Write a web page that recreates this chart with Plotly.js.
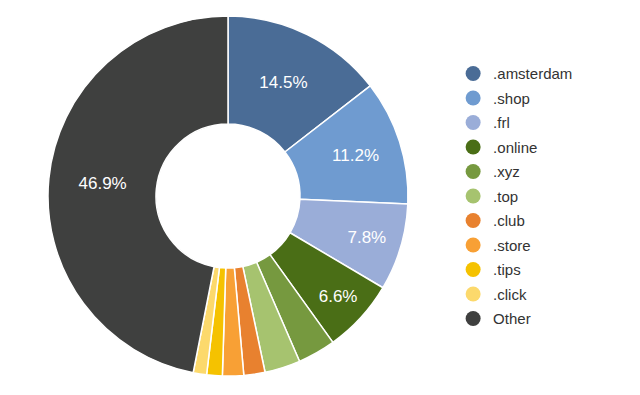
<!DOCTYPE html>
<html>
<head>
<meta charset="utf-8">
<script src="https://cdn.plot.ly/plotly-3.0.1.min.js"></script>
<style>html,body{margin:0;padding:0;background:#fff;}#chart{width:640px;height:395px;}</style>
</head>
<body>
<div id="chart"></div>
<script>
const labels = ['.amsterdam', '.shop', '.frl', '.online', '.xyz', '.top', '.club', '.store', '.tips', '.click', 'Other'];
const values = [14.5, 11.2, 7.8, 6.6, 3.4, 3.2, 1.9, 1.9, 1.4, 1.2, 46.9];
const colors = ['#4a6c96', '#6f9bd0', '#9aadd8', '#4a6e16', '#76993f', '#a6c36f', '#e8812f', '#f8a035', '#f5c200', '#fcd96c', '#3f403f'];
const showLabel = [true, true, true, true, false, false, false, false, false, false, true];

const pie = {
  type: 'pie',
  labels: labels,
  values: values,
  sort: false,
  direction: 'clockwise',
  rotation: 0,
  hole: 0.4,
  marker: {colors: colors, line: {color: '#ffffff', width: 1.5}},
  textinfo: 'percent',
  texttemplate: '%{percent:.1%}',
  textposition: showLabel.map(s => s ? 'inside' : 'none'),
  insidetextorientation: 'horizontal',
  textfont: {family: 'Liberation Sans, Arial, sans-serif', size: 17, color: '#ffffff'},
  showlegend: false,
  domain: {x: [0.075, 0.6375], y: [0.045, 0.962]},
  hoverinfo: 'label+percent'
};

const legendTraces = labels.map((lab, i) => ({
  type: 'scatter',
  mode: 'markers',
  x: [null], y: [null],
  name: lab,
  legendgroup: 'g' + i,
  marker: {color: colors[i], size: 15, symbol: 'circle'},
  showlegend: true,
  hoverinfo: 'skip'
}));

const layout = {
  width: 640, height: 395,
  margin: {l: 0, r: 0, t: 0, b: 0},
  paper_bgcolor: '#ffffff', plot_bgcolor: '#ffffff',
  xaxis: {visible: false, domain: [0.9, 1]},
  yaxis: {visible: false, domain: [0.9, 1]},
  showlegend: true,
  legend: {
    x: 0.708, y: 0.855, xanchor: 'left', yanchor: 'top',
    font: {family: 'Liberation Sans, Arial, sans-serif', size: 15, color: '#333333'},
    tracegroupgap: 2,
    bgcolor: 'rgba(0,0,0,0)'
  }
};

Plotly.newPlot('chart', [pie].concat(legendTraces), layout, {displayModeBar: false, staticPlot: true});
</script>
</body>
</html>
